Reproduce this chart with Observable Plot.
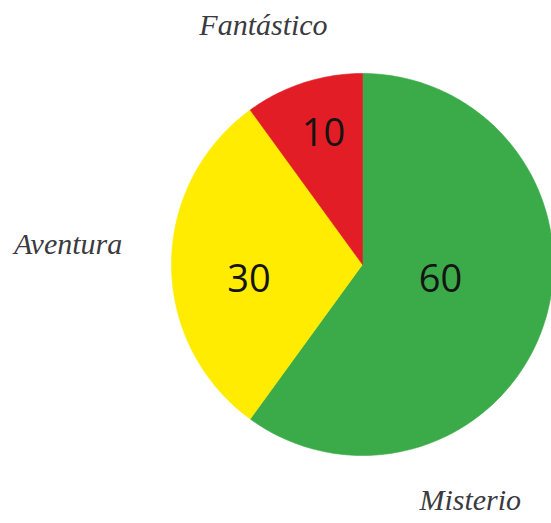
<!DOCTYPE html>
<html>
<head>
<meta charset="utf-8">
<script src="https://cdn.jsdelivr.net/npm/d3@7"></script>
<script src="https://cdn.jsdelivr.net/npm/@observablehq/plot@0.6"></script>
<style>
  html, body { margin: 0; padding: 0; background: #ffffff; }
  #chart svg { display: block; }
</style>
</head>
<body>
<div id="chart"></div>
<script>
// ---- data ----
const categories = ["Misterio", "Aventura", "Fantástico"];
const values = [60, 30, 10];
const colors = ["#3bab49", "#ffec00", "#e31d25"];

// ---- layout (styling / placement, not data) ----
const W = 551, H = 523;
const cx = 362, cy = 264, R = 191;
// label placement in polar terms: angle (deg, clockwise from 12 o'clock), radius as fraction of R
const valueLabelPlace = {"Misterio": [100.9, 0.416], "Aventura": [262.4, 0.6], "Fantástico": [343.4, 0.716]};
const nameLabelPlace = {"Misterio": [155.5, 1.36], "Aventura": [273.9, 1.545], "Fantástico": [337.5, 1.355]};

// pie geometry from values (clockwise from top)
const total = d3.sum(values);
let acc = 0;
const slices = categories.map((c, i) => {
  const a0 = acc / total * 2 * Math.PI;
  acc += values[i];
  const a1 = acc / total * 2 * Math.PI;
  return {cat: c, value: values[i], a0, a1};
});
const polar = (a, r) => ({x: r * Math.sin(a), y: r * Math.cos(a)});

// outline points of each wedge (unit circle coordinates)
const wedgePts = [];
for (const s of slices) {
  wedgePts.push({cat: s.cat, ...polar(s.a0, 0)});
  const n = Math.max(8, Math.ceil((s.a1 - s.a0) / (Math.PI / 180)));
  for (let k = 0; k <= n; k++) {
    const a = s.a0 + (s.a1 - s.a0) * k / n;
    wedgePts.push({cat: s.cat, ...polar(a, 1)});
  }
  wedgePts.push({cat: s.cat, ...polar(s.a1, 0)});
}

const deg = Math.PI / 180;
const valueLabels = slices.map(s => {
  const [ang, r] = valueLabelPlace[s.cat];
  return {cat: s.cat, text: String(s.value), ...polar(ang * deg, r)};
});
const nameLabels = slices.map(s => {
  const [ang, r] = nameLabelPlace[s.cat];
  return {cat: s.cat, text: s.cat, ...polar(ang * deg, r)};
});

const chart = Plot.plot({
  width: W,
  height: H,
  margin: 0,
  style: {background: "#ffffff", overflow: "visible"},
  x: {domain: [-1, 1], range: [cx - R, cx + R], axis: null},
  y: {domain: [-1, 1], range: [cy + R, cy - R], axis: null},
  color: {domain: categories, range: colors},
  marks: [
    Plot.line(wedgePts, {
      x: "x", y: "y", z: "cat",
      fill: "cat", stroke: "cat", strokeWidth: 0.6,
      curve: "linear-closed"
    }),
    Plot.text(valueLabels, {
      x: "x", y: "y", text: "text",
      fill: "#141414",
      fontSize: 38,
      fontFamily: "'Open Sans', sans-serif",
      textAnchor: "middle", lineAnchor: "middle"
    }),
    Plot.text(nameLabels, {
      x: "x", y: "y", text: "text",
      fill: "#3a3a3f",
      fontSize: 30,
      fontStyle: "italic",
      fontFamily: "'Liberation Serif', 'DejaVu Serif', serif",
      textAnchor: "middle", lineAnchor: "middle"
    })
  ]
});
document.getElementById("chart").append(chart);
</script>
</body>
</html>
